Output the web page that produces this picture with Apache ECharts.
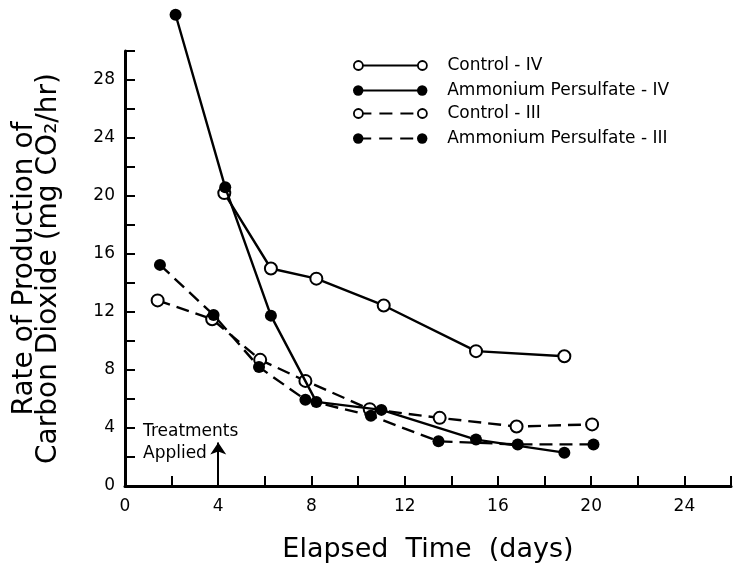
<!DOCTYPE html>
<html>
<head>
<meta charset="utf-8">
<script src="https://cdn.jsdelivr.net/npm/echarts@6/dist/echarts.min.js"></script>
<style>
  html, body { margin: 0; padding: 0; background: #fff; }
  #chart { width: 734px; height: 568px; }
</style>
</head>
<body>
<div id="chart"></div>
<script>
// 数据 (elapsed days, rate mg CO2/hr)
var daysControl4 = [4.26, 6.26, 8.21, 11.1, 15.06, 18.85];
var rateControl4 = [20.2, 15.0, 14.3, 12.45, 9.3, 8.95];

var daysPersulfate4 = [2.17, 4.3, 6.26, 8.21, 11.0, 15.06, 18.85];
var ratePersulfate4 = [32.5, 20.6, 11.75, 5.8, 5.25, 3.2, 2.3];

var daysControl3 = [1.4, 3.74, 5.8, 7.74, 10.5, 13.5, 16.8, 20.04];
var rateControl3 = [12.8, 11.5, 8.7, 7.25, 5.3, 4.7, 4.1, 4.25];

var daysPersulfate3 = [1.5, 3.8, 5.75, 7.74, 10.55, 13.45, 16.85, 20.1];
var ratePersulfate3 = [15.25, 11.8, 8.2, 5.95, 4.85, 3.08, 2.87, 2.87];

var legendNames = ['Control - IV', 'Ammonium Persulfate - IV', 'Control - III', 'Ammonium Persulfate - III'];
var treatmentDay = 4;

function pairs(xs, ys) {
    var out = [];
    for (var i = 0; i < xs.length; i++) out.push([xs[i], ys[i]]);
    return out;
}

var font = 'DejaVu Sans';
var dash = [13, 7];

function makeSeries(name, xs, ys, open, dashed) {
    return {
        name: name,
        type: 'line',
        data: pairs(xs, ys),
        clip: false,
        symbol: 'circle',
        symbolSize: open ? 12 : 12,
        lineStyle: { color: '#000', width: 2.4, type: dashed ? dash : 'solid' },
        itemStyle: { color: open ? '#fff' : '#000', borderColor: '#000', borderWidth: open ? 2 : 0 },
        emphasis: { disabled: true },
        z: open ? 3 : 4
    };
}

var series = [
    makeSeries(legendNames[0], daysControl4, rateControl4, true, false),
    makeSeries(legendNames[1], daysPersulfate4, ratePersulfate4, false, false),
    makeSeries(legendNames[2], daysControl3, rateControl3, true, true),
    makeSeries(legendNames[3], daysPersulfate3, ratePersulfate3, false, true)
];

// "Treatments Applied" arrow
series[0].markLine = {
    silent: true,
    symbol: ['none', 'arrow'],
    symbolSize: 12,
    label: { show: false },
    lineStyle: { color: '#000', width: 2, type: 'solid' },
    data: [[{ coord: [treatmentDay, 0] }, { coord: [treatmentDay, 3.0] }]]
};

// 图例 drawn by hand to get markers at both ends
var legendGraphic = [];
var rowY = [63, 88, 111, 136];
for (var i = 0; i < 4; i++) {
    var open = (i % 2 === 0);
    var dashed = i >= 2;
    legendGraphic.push({
        type: 'group',
        left: 353,
        top: rowY[i] - 6,
        children: [
            { type: 'line', shape: { x1: 5, y1: 6, x2: 69, y2: 6 },
              style: { stroke: '#000', lineWidth: 2, lineDash: dashed ? [13, 8] : null } },
            { type: 'circle', shape: { cx: 5, cy: 6, r: open ? 4.5 : 5.2 },
              style: { fill: open ? '#fff' : '#000', stroke: '#000', lineWidth: open ? 1.8 : 0 } },
            { type: 'circle', shape: { cx: 69, cy: 6, r: open ? 4.5 : 5.2 },
              style: { fill: open ? '#fff' : '#000', stroke: '#000', lineWidth: open ? 1.8 : 0 } },
            { type: 'text', x: 94, y: 6,
              style: { text: legendNames[i], fill: '#000', font: '17px "' + font + '"', verticalAlign: 'middle' } }
        ]
    });
}
legendGraphic.push({
    type: 'text',
    left: 143,
    top: 421,
    style: { text: 'Treatments\nApplied', fill: '#000', font: '17px "' + font + '"', lineHeight: 22 }
});

var chart = echarts.init(document.getElementById('chart'));

var option = {
    backgroundColor: '#fff',
    animation: false,
    grid: { left: 125, right: -2, top: 51, bottom: 78, containLabel: false },
    xAxis: {
        type: 'value',
        min: 0,
        max: 26,
        interval: 2,
        name: 'Elapsed  Time  (days)',
        nameLocation: 'middle',
        nameGap: 50,
        nameTextStyle: { fontFamily: font, fontSize: 27, color: '#000' },
        axisLine: { lineStyle: { color: '#000', width: 3 } },
        axisTick: { inside: true, length: 10, lineStyle: { color: '#000', width: 2 } },
        axisLabel: {
            margin: 12, fontFamily: font, fontSize: 17, color: '#000',
            formatter: function (v) { return v % 4 === 0 ? String(v) : ''; }
        },
        splitLine: { show: false }
    },
    yAxis: {
        type: 'value',
        min: 0,
        max: 30,
        interval: 2,
        name: 'Rate of Production of\nCarbon Dioxide (mg CO\u2082/hr)',
        nameLocation: 'middle',
        nameGap: 64,
        nameTextStyle: { fontFamily: font, fontSize: 28, color: '#000', lineHeight: 24 },
        axisLine: { show: true, lineStyle: { color: '#000', width: 3 } },
        axisTick: { show: true, inside: true, length: 10, lineStyle: { color: '#000', width: 2 } },
        axisLabel: {
            margin: 10, fontFamily: font, fontSize: 17, color: '#000',
            formatter: function (v) { return v % 4 === 0 ? String(v) : ''; }
        },
        splitLine: { show: false }
    },
    graphic: legendGraphic,
    series: series
};

chart.setOption(option);
</script>
</body>
</html>
